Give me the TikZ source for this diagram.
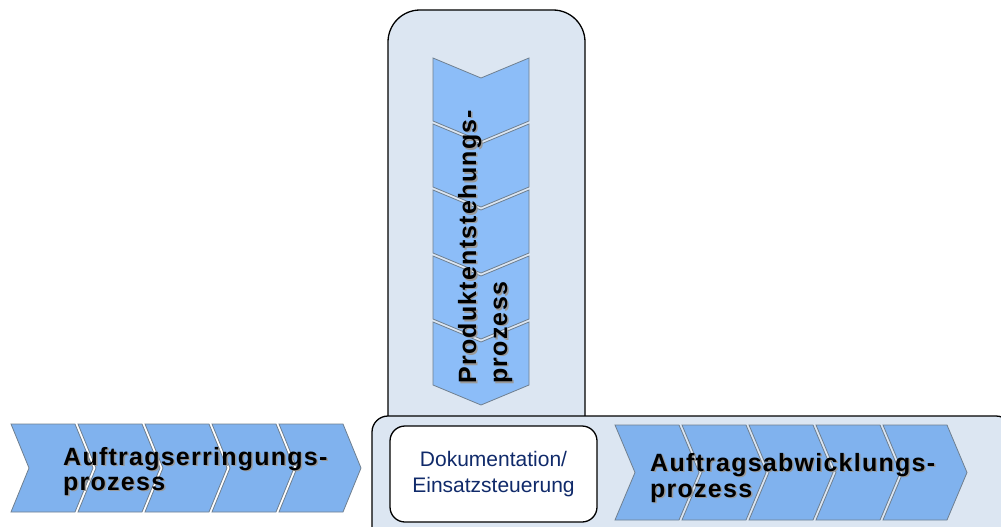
\documentclass[tikz,border=0pt]{standalone}
\usepackage{fontspec}
\setmainfont{Liberation Sans}
\newfontfamily\chevfont[LetterSpace=5]{Liberation Sans}
\definecolor{panel}{HTML}{DCE6F2}
\definecolor{chevH}{HTML}{80B2EE}
\definecolor{chevV}{HTML}{8CBDF8}
\definecolor{chevline}{HTML}{6F7F8F}
\definecolor{navy}{HTML}{102A6A}
\tikzset{
  panelbox/.style={fill=panel, draw=black, line width=1.3pt},
  chevshape/.style={draw=chevline, line width=0.8pt, line join=miter},
  bigtext/.style={font=\chevfont\fontsize{25}{25}\selectfont\bfseries, inner sep=0pt, text=black},
  shadowtext/.style={bigtext, text=black!40},
  doctext/.style={font=\fontsize{21}{26}\selectfont, text=navy, align=center}
}
\begin{document}
\begin{tikzpicture}[x=1pt,y=-1pt]
\useasboundingbox (0,0) rectangle (1001,527);
% vertical panel
\draw[panelbox] (388,440) [rounded corners=32pt] -- (388,10) -- (585,10) [sharp corners] -- (585,440) -- cycle;
% horizontal panel
\draw[panelbox] (372,560) [rounded corners=16pt] -- (372,416) -- (1012,416) [sharp corners] -- (1012,560) -- cycle;
% vertical chevrons
\foreach \i in {0,...,4} {
  \pgfmathsetmacro\yy{58+66*\i}
  \draw[chevshape, fill=chevV] (433,\yy) -- (481,\yy+20) -- (529,\yy) -- (529,\yy+63) -- (481,\yy+83) -- (433,\yy+63) -- cycle;
}
% left chevrons
\foreach \i in {0,...,4} {
  \pgfmathsetmacro\xx{11+67*\i}
  \draw[chevshape, fill=chevH] (\xx,424) -- (\xx+64,424) -- (\xx+82,468) -- (\xx+64,512) -- (\xx,512) -- (\xx+18,468) -- cycle;
}
% right chevrons
\foreach \i in {0,...,4} {
  \pgfmathsetmacro\xx{615+67*\i}
  \draw[chevshape, fill=chevH] (\xx,425) -- (\xx+64,425) -- (\xx+84,472.5) -- (\xx+64,520) -- (\xx,520) -- (\xx+20,472.5) -- cycle;
}
% documentation box
\node[draw=black, fill=white, line width=1.3pt, rounded corners=15pt, minimum width=207pt, minimum height=96pt, doctext] (doc) at (493.5,474) {Dokumentation/\\Einsatzsteuerung};
% left text
\node[shadowtext, anchor=base west] (t1s) at (64.5,466.5) {Auftragserringungs-};
\node[bigtext, anchor=base west] (t1) at (63,465) {Auftragserringungs-};
\node[shadowtext, anchor=base west] (t2s) at (64.5,491.5) {prozess};
\node[bigtext, anchor=base west] (t2) at (63,490) {prozess};
% right text
\node[shadowtext, anchor=base west] (t3s) at (651.5,472.5) {Auftragsabwicklungs-};
\node[bigtext, anchor=base west] (t3) at (650,471) {Auftragsabwicklungs-};
\node[shadowtext, anchor=base west] (t4s) at (651.5,498.5) {prozess};
\node[bigtext, anchor=base west] (t4) at (650,497) {prozess};
% vertical text
\node[shadowtext, rotate=90, anchor=base west] (t5s) at (477.5,385.5) {Produktentstehungs-};
\node[bigtext, rotate=90, anchor=base west] (t5) at (476,384) {Produktentstehungs-};
\node[shadowtext, rotate=90, anchor=base west] (t6s) at (508.5,385.5) {prozess};
\node[bigtext, rotate=90, anchor=base west] (t6) at (507,384) {prozess};
\end{tikzpicture}
\end{document}
